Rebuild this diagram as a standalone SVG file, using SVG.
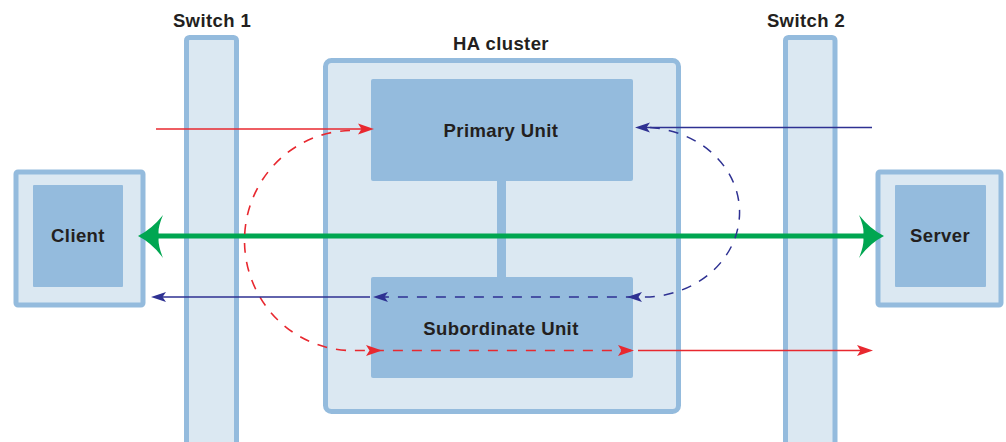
<svg xmlns="http://www.w3.org/2000/svg" width="1006" height="442" viewBox="0 0 1006 442">
<style>
.outer{fill:#dbe8f2;stroke:#94bbdd;stroke-width:5}
.inner{fill:#94bbdd}
.lbl{font-family:"Liberation Sans",Arial,sans-serif;font-weight:bold;font-size:18.5px;letter-spacing:0.4px;fill:#231f20;text-anchor:middle}
.red{fill:none;stroke:#e8282f;stroke-width:1.6}
.blue{fill:none;stroke:#2e3192;stroke-width:1.5}
.dash{stroke-dasharray:10 9}
.rh{fill:#e8282f}
.bh{fill:#2e3192}
.gh{fill:#00a651}
</style>
<rect width="1006" height="442" fill="#ffffff"/>
<g id="switch1">
<rect class="outer" x="186.5" y="37.5" width="50" height="420" rx="3"/>
<text class="lbl" x="212" y="27">Switch 1</text>
</g>
<g id="switch2">
<rect class="outer" x="785.5" y="37.5" width="49.5" height="420" rx="3"/>
<text class="lbl" x="806" y="27">Switch 2</text>
</g>
<g id="ha-cluster">
<rect class="outer" x="325.5" y="60.5" width="353" height="351" rx="6"/>
<text class="lbl" x="501" y="50">HA cluster</text>
<rect class="inner" x="497" y="180" width="9" height="98"/>
</g>
<g id="primary">
<rect class="inner" x="371" y="79" width="262" height="102" rx="2"/>
<text class="lbl" x="501" y="137">Primary Unit</text>
</g>
<g id="subordinate">
<rect class="inner" x="371" y="277" width="262" height="101" rx="2"/>
<text class="lbl" x="501" y="335">Subordinate Unit</text>
</g>
<g id="client">
<rect class="outer" x="16" y="172" width="127" height="133" rx="2"/>
<rect class="inner" x="33" y="185" width="90" height="102" rx="1"/>
<text class="lbl" x="78" y="242">Client</text>
</g>
<g id="server">
<rect class="outer" x="878" y="172" width="123" height="133" rx="2"/>
<rect class="inner" x="895" y="185" width="91" height="102" rx="1"/>
<text class="lbl" x="940" y="242">Server</text>
</g>
<g id="connectors">
<line x1="150" y1="236" x2="872" y2="236" stroke="#00a651" stroke-width="5"/>
<path class="gh" d="M138,236 Q152,229 163,215 Q157,229 159,236 Q157,243 163,258 Q152,243 138,236 Z"/>
<path class="gh" d="M884,236 Q870,229 859,215 Q865,229 863,236 Q865,243 859,258 Q870,243 884,236 Z"/>
<line class="red" x1="156" y1="129" x2="362" y2="129"/>
<path class="rh" d="M374,129 L358,123.5 L361.5,129 L358,134.5 Z"/>
<path class="red dash" d="M350,130.5 A108 110 0 0 0 355 350.5 L632,350.5"/>
<path class="rh" d="M382,350.5 L366,345 L369.5,350.5 L366,356 Z"/>
<path class="rh" d="M634,350.5 L618,345 L621.5,350.5 L618,356 Z"/>
<line class="red" x1="638" y1="350.5" x2="862" y2="350.5"/>
<path class="rh" d="M873,350.5 L857,345 L860.5,350.5 L857,356 Z"/>
<line class="blue" x1="872" y1="127.5" x2="646" y2="127.5"/>
<path class="bh" d="M635,127.5 L650,122.5 L646.5,127.5 L650,132.5 Z"/>
<path class="blue dash" d="M650,127.5 A97 85 0 0 1 650 297 L376,297"/>
<path class="bh" d="M627,297 L642,292 L638.5,297 L642,302 Z"/>
<path class="bh" d="M373,297 L388,292 L384.5,297 L388,302 Z"/>
<line class="blue" x1="370" y1="297" x2="160" y2="297"/>
<path class="bh" d="M151,297 L166,292 L162.5,297 L166,302 Z"/>
</g>
</svg>
